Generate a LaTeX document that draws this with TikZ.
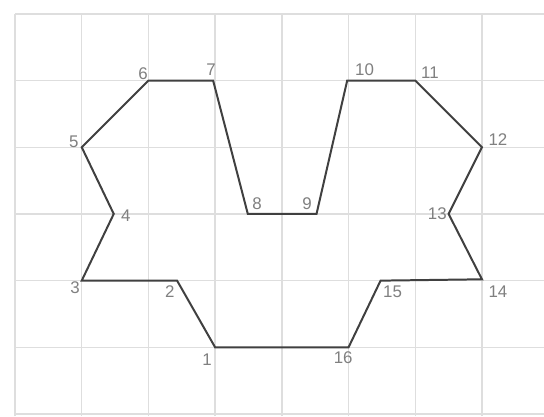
\documentclass[tikz,border=0pt]{standalone}
\usepackage{fontspec}
\setmainfont{Liberation Sans}
\begin{document}
\begin{tikzpicture}[x=1cm,y=1cm,
  gridline/.style={draw=black!13,line width=0.6pt},
  shapeline/.style={draw=black!75,line width=0.85pt,line join=miter},
  lbl/.style={inner sep=0pt,text=black!50,font=\fontsize{7.2}{8}\selectfont}]
\useasboundingbox (-0.225,-0.03) rectangle (7.93,6.207);
\fill[white] (-0.225,-0.03) rectangle (7.93,6.207);
% grid
\foreach \y in {0,...,6} \draw[gridline] (0,\y) -- (7.93,\y);
\foreach \x in {0,...,7} \draw[gridline] (\x,-0.03) -- (\x,6);
% vertices
\coordinate (v1) at (3,1);
\coordinate (v2) at (2.43,2);
\coordinate (v3) at (1,2);
\coordinate (v4) at (1.48,3);
\coordinate (v5) at (1,4);
\coordinate (v6) at (2,5);
\coordinate (v7) at (2.97,5);
\coordinate (v8) at (3.49,3);
\coordinate (v9) at (4.52,3);
\coordinate (v10) at (4.98,5);
\coordinate (v11) at (6,5);
\coordinate (v12) at (7,4);
\coordinate (v13) at (6.5,3);
\coordinate (v14) at (7,2.02);
\coordinate (v15) at (5.48,2);
\coordinate (v16) at (5,1);
\draw[shapeline] (v1) -- (v2) -- (v3) -- (v4) -- (v5) -- (v6) -- (v7) -- (v8)
  -- (v9) -- (v10) -- (v11) -- (v12) -- (v13) -- (v14) -- (v15) -- (v16) -- cycle;
% labels
\node[lbl] (l1) at (2.88,0.81) {1};
\node[lbl] (l2) at (2.32,1.83) {2};
\node[lbl] (l3) at (0.90,1.89) {3};
\node[lbl] (l4) at (1.66,2.98) {4};
\node[lbl] (l5) at (0.88,4.08) {5};
\node[lbl] (l6) at (1.92,5.10) {6};
\node[lbl] (l7) at (2.94,5.16) {7};
\node[lbl] (l8) at (3.63,3.16) {8};
\node[lbl] (l9) at (4.38,3.16) {9};
\node[lbl] (l10) at (5.24,5.16) {10};
\node[lbl] (l11) at (6.22,5.11) {11};
\node[lbl] (l12) at (7.24,4.11) {12};
\node[lbl] (l13) at (6.33,3.01) {13};
\node[lbl] (l14) at (7.24,1.83) {14};
\node[lbl] (l15) at (5.66,1.83) {15};
\node[lbl] (l16) at (4.92,0.85) {16};
\end{tikzpicture}
\end{document}
